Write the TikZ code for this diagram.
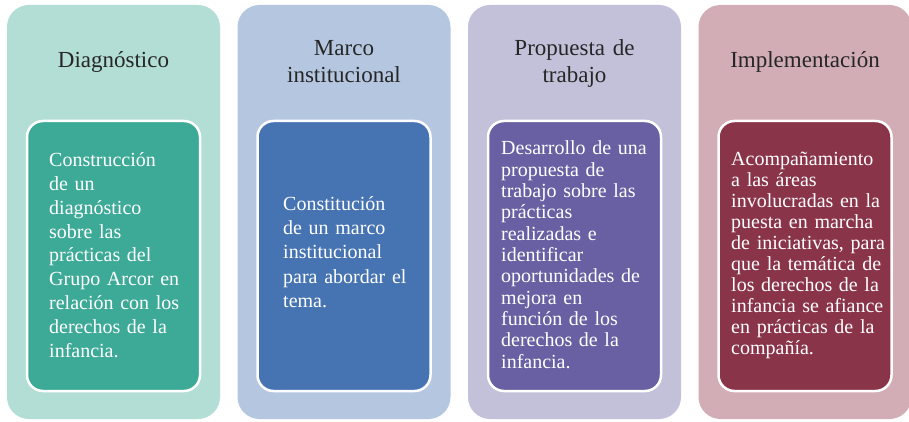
\documentclass[tikz,border=0pt]{standalone}
\usepackage{fontspec}
\setmainfont{Liberation Serif}
\definecolor{oA}{HTML}{B2DED5}
\definecolor{iA}{HTML}{3DAA97}
\definecolor{oB}{HTML}{B5C7E0}
\definecolor{iB}{HTML}{4674B2}
\definecolor{oC}{HTML}{C3C1DA}
\definecolor{iC}{HTML}{6860A3}
\definecolor{oD}{HTML}{D2ADB6}
\definecolor{iD}{HTML}{8A344A}
\definecolor{titlegray}{HTML}{262626}
\tikzset{
  outerbox/.style={rectangle, rounded corners=22pt, minimum width=213pt, minimum height=414pt, inner sep=0pt, draw=none},
  innerbox/.style={rectangle, rounded corners=16pt, minimum width=173pt, minimum height=270pt, inner sep=0pt, draw=white, line width=2.5pt},
  titletext/.style={text width=210pt, align=center, inner sep=0pt, anchor=base, text=titlegray, font=\fontsize{23}{27}\selectfont},
  bodytext/.style={text width=168pt, align=left, inner sep=0pt, anchor=base west, text=white}
}
\begin{document}
\begin{tikzpicture}[x=1pt,y=-1pt]
\useasboundingbox (0,0) rectangle (909,422);
\fill[white] (0,0) rectangle (909,422);
\begin{scope}
\clip (0,0) rectangle (909,422);
% outer boxes
\node[outerbox, fill=oA] (oa) at (113.5,212) {};
\node[outerbox, fill=oB] (ob) at (344,212) {};
\node[outerbox, fill=oC] (oc) at (574.5,212) {};
\node[outerbox, fill=oD] (od) at (805,212) {};
% inner boxes
\node[innerbox, fill=iA] (ia) at (113.5,256) {};
\node[innerbox, fill=iB] (ib) at (344,256) {};
\node[innerbox, fill=iC] (ic) at (574.5,256) {};
\node[innerbox, fill=iD] (id) at (805,256) {};
\end{scope}
% titles
\node[titletext] (ta) at (113.5,68) {Diagnóstico};
\node[titletext] (tb) at (344,56) {Marco\\institucional};
\node[titletext] (tc) at (574.5,56) {Propuesta de\\trabajo};
\node[titletext] (td) at (805,68) {Implementación};
% body texts
\node[bodytext, font=\fontsize{20}{23.75}\selectfont] (ba) at (49,167)
  {Construcción\\de un\\diagnóstico\\sobre las\\prácticas del\\Grupo Arcor en\\relación con los\\derechos de la\\infancia.};
\node[bodytext, font=\fontsize{20}{24.4}\selectfont] (bb) at (283,210)
  {Constitución\\de un marco\\institucional\\para abordar el\\tema.};
\node[bodytext, font=\fontsize{20}{21.3}\selectfont] (bc) at (501,155)
  {Desarrollo de una\\propuesta de\\trabajo sobre las\\prácticas\\realizadas e\\identificar\\oportunidades de\\mejora en\\función de los\\derechos de la\\infancia.};
\node[bodytext, font=\fontsize{20}{21.1}\selectfont] (bd) at (731,165)
  {Acompañamiento\\a las áreas\\involucradas en la\\puesta en marcha\\de iniciativas, para\\que la temática de\\los derechos de la\\infancia se afiance\\en prácticas de la\\compañía.};
\end{tikzpicture}
\end{document}
